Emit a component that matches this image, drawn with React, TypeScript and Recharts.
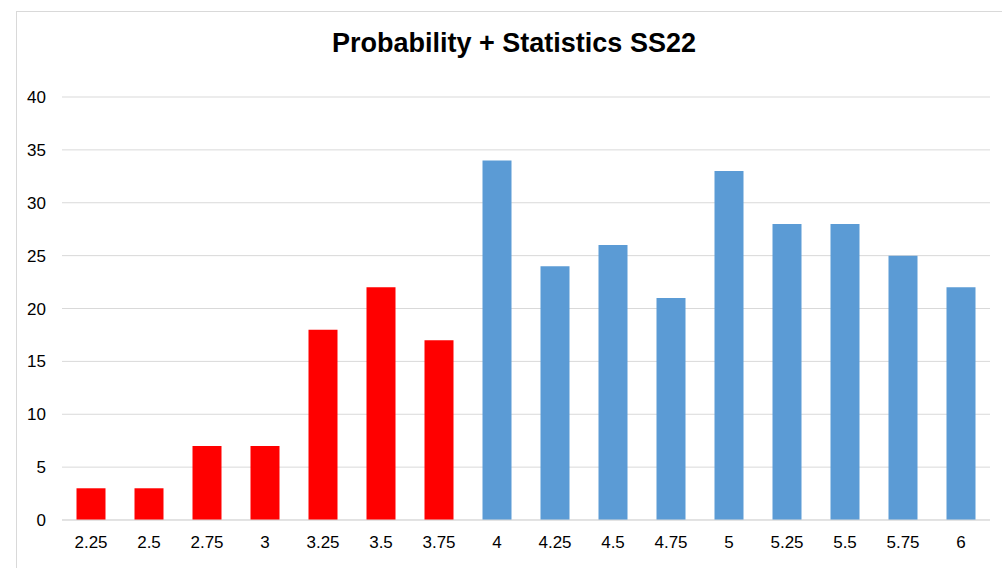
import React from 'react';
import { BarChart, Bar, Cell, XAxis, YAxis, CartesianGrid } from 'recharts';

const GRADES = ['2.25', '2.5', '2.75', '3', '3.25', '3.5', '3.75', '4', '4.25', '4.5', '4.75', '5', '5.25', '5.5', '5.75', '6'];
const COUNTS = [3, 3, 7, 7, 18, 22, 17, 34, 24, 26, 21, 33, 28, 28, 25, 22];
const Y_TICKS = [0, 5, 10, 15, 20, 25, 30, 35, 40];

const FAIL_COLOR = '#ff0000';
const PASS_COLOR = '#5b9bd5';
// grades below 4 count as passed (German scale), the rest failed
const PASS_LIMIT = 4;

const data = GRADES.map((g, i) => ({ grade: g, count: COUNTS[i] }));

const FONT = '"Liberation Sans", Arial, sans-serif';
const tickStyle = { fill: '#000', fontSize: 17, fontFamily: FONT };

export default function App() {
  return (
    <div style={{ position: 'absolute', left: 0, top: 0, width: 1002, height: 568, overflow: 'hidden', background: '#fff' }}>
      <div style={{ position: 'absolute', left: 16, top: 11, width: 1100, height: 700, border: '1px solid #d9d9d9', boxSizing: 'border-box' }} />
      <div
        style={{
          position: 'absolute',
          left: 0,
          width: 1028,
          top: 27,
          textAlign: 'center',
          fontFamily: FONT,
          fontWeight: 'bold',
          fontSize: 27,
          lineHeight: '32px',
          color: '#000',
        }}
      >
        Probability + Statistics SS22
      </div>
      <div style={{ position: 'absolute', left: 0, top: 0, fontFamily: FONT, fontSize: 17 }}>
        <BarChart width={1002} height={568} data={data} margin={{ top: 97, right: 12, bottom: 18, left: 0 }} barCategoryGap="25%">
          <CartesianGrid vertical={false} stroke="#d9d9d9" />
          <XAxis
            dataKey="grade"
            axisLine={{ stroke: '#d9d9d9' }}
            tickLine={false}
            tickSize={0}
            tickMargin={16}
            height={30}
            tick={tickStyle}
            fontSize={17}
            interval={0}
          />
          <YAxis
            domain={[0, 40]}
            ticks={Y_TICKS}
            axisLine={false}
            tickLine={false}
            tickSize={0}
            tickMargin={16}
            width={62}
            tick={tickStyle}
            fontSize={17}
          />
          <Bar dataKey="count" isAnimationActive={false}>
            {data.map((d, i) => (
              <Cell key={i} fill={parseFloat(d.grade) < PASS_LIMIT ? FAIL_COLOR : PASS_COLOR} />
            ))}
          </Bar>
        </BarChart>
      </div>
    </div>
  );
}
